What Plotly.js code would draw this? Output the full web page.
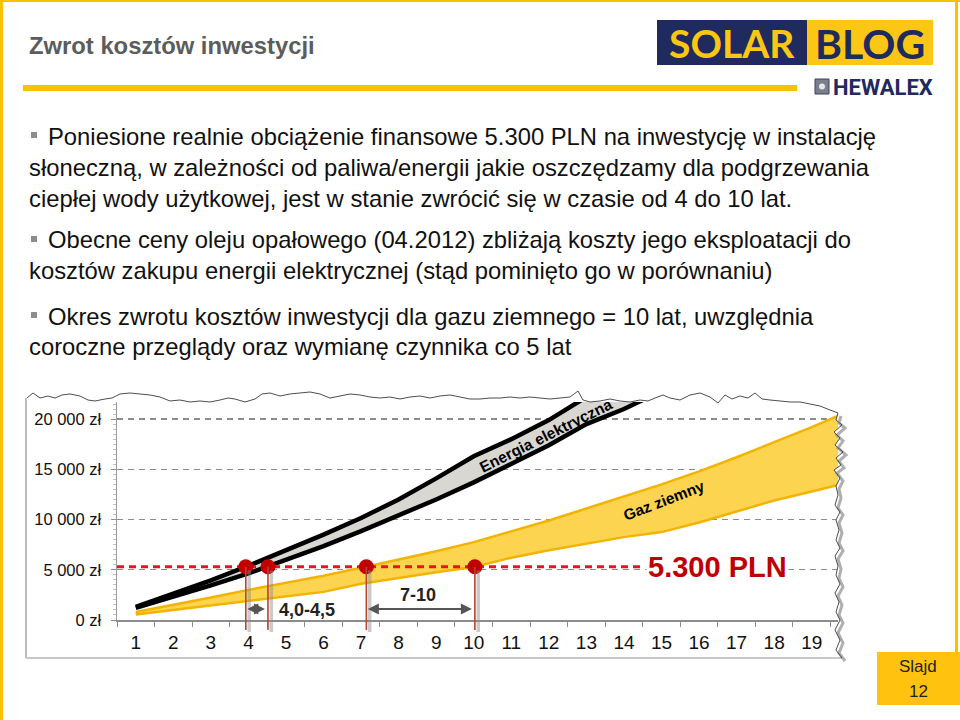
<!DOCTYPE html>
<html>
<head>
<meta charset="utf-8">
<script src="https://cdn.plot.ly/plotly-3.0.1.min.js"></script>
<style>html,body{margin:0;padding:0;background:#fff;}#chart{width:960px;height:720px;}</style>
</head>
<body>
<div id="chart"></div>
<script>
// ---- data ----
const yearLabels = ['1','2','3','4','5','6','7','8','9','10','11','12','13','14','15','16','17','18','19'];
const yearTicks = [1,2,3,4,5,6,7,8,9,10,11,12,13,14,15,16,17,18,19];
const elecYears = [1,2,3,4,5,6,7,8,9,10,11,12,13,14,15];
const elecUpper = [1300,2600,3950,5400,6900,8500,10150,12000,14100,16300,18000,19900,22200,24500,27000];
const elecLower = [1200,2300,3450,4650,5950,7350,8850,10400,12000,13700,15500,17400,19500,21000,22800];
const gasYears = [1,2,3,4,5,6,7,8,9,10,11,12,13,14,15,16,17,18,19,20];
const gasUpper = [800,1500,2250,3000,3700,4400,5200,6000,6850,7750,8800,9900,11100,12300,13500,14800,16200,17700,19200,20800];
const gasLower = [550,1000,1450,1900,2350,2800,3600,4200,4750,5280,6200,6950,7600,8250,8750,9700,10800,11900,12800,13700];
const investment = 5300;
const investmentLineX = [0.5, 14.5];
const paybackX = [3.93, 4.52, 7.14, 10.03];
const yTickVals = [0,5000,10000,15000,20000];
const yTickText = ['0 zł','5 000 zł','10 000 zł','15 000 zł','20 000 zł'];
const rangeElec = {from: 3.93, to: 4.52, label: '4,0-4,5'};
const rangeGas = {from: 7.14, to: 10.03, label: '7-10'};

const bulletLines = [
  {t:'Poniesione realnie obciążenie finansowe 5.300 PLN na inwestycję w instalację', bullet:true},
  {t:'słoneczną, w zależności od paliwa/energii jakie oszczędzamy dla podgrzewania'},
  {t:'ciepłej wody użytkowej, jest w stanie zwrócić się w czasie od 4 do 10 lat.'},
  {t:'Obecne ceny oleju opałowego (04.2012) zbliżają koszty jego eksploatacji do', bullet:true},
  {t:'kosztów zakupu energii elektrycznej (stąd pominięto go w porównaniu)'},
  {t:'Okres zwrotu kosztów inwestycji dla gazu ziemnego = 10 lat, uwzględnia', bullet:true},
  {t:'coroczne przeglądy oraz wymianę czynnika co 5 lat'}
];
const lineY = [136,167,198,240,270,316,346];

// ---- layout helpers ----
const W = 960, H = 720;
const px = x => x / W;
const py = y => 1 - y / H;
const xDom = [117/W, 838/W];
const yDom = [py(620), py(402)];
const xRange = [0.5, 19.7];
const yRange = [0, 21700];
const yPaper = v => yDom[0] + (v - yRange[0]) / (yRange[1] - yRange[0]) * (yDom[1] - yDom[0]);
const FONT = 'Liberation Sans, Arial, sans-serif';
const YELLOW = '#F6C300';

const traces = [
  {x: gasYears, y: gasUpper, mode:'lines', line:{color:'#F2B400', width:2.5}, hoverinfo:'skip', showlegend:false},
  {x: gasYears, y: gasLower, mode:'lines', fill:'tonexty', fillcolor:'#FDD450', line:{color:'#F2B400', width:2.5}, hoverinfo:'skip', showlegend:false},
  {x: elecYears, y: elecUpper, mode:'lines', line:{color:'#000', width:4.5}, hoverinfo:'skip', showlegend:false},
  {x: elecYears, y: elecLower, mode:'lines', fill:'tonexty', fillcolor:'#D9D7D2', line:{color:'#000', width:4.5}, hoverinfo:'skip', showlegend:false},
  {x: investmentLineX, y: [investment, investment], mode:'lines', line:{color:'#E8141C', width:3, dash:'7px,5px'}, hoverinfo:'skip', showlegend:false},
  {x: paybackX, y: paybackX.map(() => investment), mode:'markers', marker:{color:'#C00000', size:15}, hoverinfo:'skip', showlegend:false}
];

const shapes = [];
// slide frame
shapes.push({type:'line', xref:'paper', yref:'paper', x0:px(0), x1:px(960), y0:py(1), y1:py(1), line:{color:YELLOW, width:2}});
shapes.push({type:'line', xref:'paper', yref:'paper', x0:px(1.5), x1:px(1.5), y0:py(0), y1:py(720), line:{color:YELLOW, width:3}});
shapes.push({type:'line', xref:'paper', yref:'paper', x0:px(956.5), x1:px(956.5), y0:py(0), y1:py(652), line:{color:YELLOW, width:3}});
// title bar
shapes.push({type:'rect', xref:'paper', yref:'paper', x0:px(23), x1:px(797), y0:py(85), y1:py(91), fillcolor:YELLOW, line:{width:0}});
// logo boxes
shapes.push({type:'rect', xref:'paper', yref:'paper', x0:px(657), x1:px(807), y0:py(20), y1:py(65), fillcolor:'#1F2A5E', line:{width:0}});
shapes.push({type:'rect', xref:'paper', yref:'paper', x0:px(807), x1:px(933), y0:py(20), y1:py(65), fillcolor:'#FBC614', line:{width:0}});
shapes.push({type:'rect', xref:'paper', yref:'paper', x0:px(815), x1:px(829), y0:py(79), y1:py(94), fillcolor:'#7A7F8C', line:{color:'#3B4260', width:1}});
shapes.push({type:'circle', xref:'paper', yref:'paper', x0:px(819), x1:px(825), y0:py(83.5), y1:py(89.5), fillcolor:'#E6E6E6', line:{width:0}});
// slide number box
shapes.push({type:'rect', xref:'paper', yref:'paper', x0:px(877), x1:px(960), y0:py(652), y1:py(705), fillcolor:'#FFC20E', line:{width:0}});
// bullets
bulletLines.forEach((b,i) => {
  if (b.bullet) shapes.push({type:'rect', xref:'paper', yref:'paper', x0:px(31), x1:px(37), y0:py(lineY[i]-4), y1:py(lineY[i]+2), fillcolor:'#8C8C8C', line:{width:0}});
});
// chart frame (left + bottom)
shapes.push({type:'line', xref:'paper', yref:'paper', x0:px(26), x1:px(26), y0:py(398), y1:py(658), line:{color:'#A6A6A6', width:1.5}});
shapes.push({type:'line', xref:'paper', yref:'paper', x0:px(26), x1:px(842), y0:py(658), y1:py(658), line:{color:'#C8C8C8', width:2}});

// payback vertical lines with shadow
paybackX.forEach(x => {
  shapes.push({type:'line', xref:'x', yref:'paper', x0:x+0.09, x1:x+0.09, y0:yPaper(investment)-0.005, y1:py(632), line:{color:'rgba(140,140,140,0.45)', width:3.5}});
  shapes.push({type:'line', xref:'x', yref:'paper', x0:x, x1:x, y0:yPaper(investment), y1:py(630), line:{color:'#B8432E', width:1.6}});
});

// torn edges
const topEdge = [[27,398],[33,393],[40,398],[48,396],[55,398],[62,395],[70,394],[80,396],[88,400],[95,401],[105,399],[112,398],[120,394],[130,393],[140,394],[150,395],[160,397],[170,401],[180,400],[190,402],[200,401],[210,402],[220,400],[228,398],[235,399],[245,402],[255,399],[262,394],[270,393],[280,396],[290,394],[300,393],[310,392],[320,394],[330,398],[340,396],[350,394],[360,395],[370,397],[380,398],[390,397],[400,399],[410,397],[420,396],[430,398],[440,396],[450,395],[460,397],[470,399],[480,399],[490,398],[500,398],[510,397],[520,398],[530,397],[540,398],[550,399],[560,398],[570,397],[578,391],[583,400],[590,402],[600,401],[610,399],[620,401],[630,402],[640,400],[648,401],[655,398],[663,395],[670,398],[680,400],[690,395],[700,393],[710,397],[718,403],[725,395],[732,399],[740,396],[748,398],[755,393],[762,399],[770,400],[780,401],[790,402],[800,402],[810,404],[820,406],[830,410],[838,413]];
const rightEdge = [[838,413],[836,420],[842,425],[834,432],[840,438],[835,445],[843,452],[836,458],[841,465],[834,470],[840,478],[836,486],[838,495],[835,505],[840,512],[836,520],[839,530],[836,540],[840,548],[835,556],[838,566],[836,575],[840,584],[835,593],[839,602],[836,612],[840,620],[835,630],[840,640],[836,650],[842,658]];
const toPath = pts => pts.map((p,i) => (i ? 'L' : 'M') + px(p[0]).toFixed(5) + ',' + py(p[1]).toFixed(5)).join(' ');
shapes.push({type:'path', xref:'paper', yref:'paper', layer:'above', path: toPath(rightEdge.concat([[870,658],[870,405]])) + ' Z', fillcolor:'#fff', line:{width:0}});
shapes.push({type:'path', xref:'paper', yref:'paper', layer:'above', path: toPath(topEdge.concat([[838,385],[27,385]])) + ' Z', fillcolor:'#fff', line:{width:0}});
shapes.push({type:'path', xref:'paper', yref:'paper', layer:'above', path: toPath(rightEdge.map(p => [p[0]+3, p[1]+3])), line:{color:'rgba(110,110,110,0.55)', width:3}});
shapes.push({type:'path', xref:'paper', yref:'paper', layer:'above', path: toPath(topEdge), line:{color:'#4D4D4D', width:1}});
shapes.push({type:'path', xref:'paper', yref:'paper', layer:'above', path: toPath(rightEdge), line:{color:'#4D4D4D', width:1}});

const annotations = [];
const pa = (x, y, text, font, opts) => Object.assign({xref:'paper', yref:'paper', x:px(x), y:py(y), text, showarrow:false, font:Object.assign({family:FONT, color:'#111'}, font), xanchor:'left', yanchor:'middle'}, opts || {});
annotations.push(pa(27, 45, '<b>Zwrot kosztów inwestycji</b>', {size:23.8, color:'#5C5C5C'}));
bulletLines.forEach((b,i) => {
  annotations.push(pa(b.bullet ? 46 : 27, lineY[i], b.t, {size:23.8, color:'#111'}));
});
annotations.push(pa(732, 43, '<b>SOLAR</b>', {size:39, color:'#FBC614', family:'Lato, Open Sans, sans-serif'}, {xanchor:'center'}));
annotations.push(pa(870, 43, '<b>BLOG</b>', {size:41, color:'#1F2A5E', family:'Lato, Open Sans, sans-serif'}, {xanchor:'center'}));
annotations.push(pa(831, 87, '<b>HEWALEX</b>', {size:22, color:'#1F2A5E', family:'Roboto, Liberation Sans, sans-serif'}));
annotations.push(pa(918, 666, 'Slajd', {size:17, color:'#222'}, {xanchor:'center'}));
annotations.push(pa(918, 691, '12', {size:17, color:'#222'}, {xanchor:'center'}));

// chart labels (data coords)
annotations.push({x:11.92, y:18350, xref:'x', yref:'y', text:'<b>Energia elektryczna</b>', showarrow:false, textangle:-26.5, font:{family:FONT, size:15.5, color:'#000'}});
annotations.push({x:15.06, y:11940, xref:'x', yref:'y', text:'<b>Gaz ziemny</b>', showarrow:false, textangle:-21, font:{family:FONT, size:15.5, color:'#000'}});
annotations.push({x:16.5, y:5270, xref:'x', yref:'y', text:'<b>5.300 PLN</b>', showarrow:false, bgcolor:'#fff', borderpad:1, font:{family:FONT, size:29, color:'#C00000'}});
[[rangeElec, 1100, 5.55, 1000], [rangeGas, 1100, 8.51, 2450]].forEach(([r, ay, lx, ly]) => {
  annotations.push({x:r.from+0.04, y:ay, ax:r.to-0.04, ay:ay, xref:'x', yref:'y', axref:'x', ayref:'y', text:'', showarrow:true, arrowside:'end+start', arrowhead:2, arrowsize:1.1, arrowwidth:2, arrowcolor:'#555', standoff:0, startstandoff:0});
  annotations.push({x:lx, y:ly, xref:'x', yref:'y', text:'<b>' + r.label + '</b>', showarrow:false, font:{family:FONT, size:18, color:'#222'}});
});

const layout = {
  width: W, height: H,
  margin: {l:0, r:0, t:0, b:0},
  paper_bgcolor:'#fff', plot_bgcolor:'#fff',
  showlegend:false,
  xaxis: {
    domain: xDom, range: xRange, tickmode:'array', tickvals: yearTicks, ticktext: yearLabels,
    ticks:'', showgrid:false, zeroline:false, showline:true, linecolor:'#8C8C8C', linewidth:1.5,
    tickfont:{family:FONT, size:19, color:'#111'}, ticklabelstandoff: 5,
    minor:{tick0:0.5, dtick:1, ticks:'outside', ticklen:5, tickcolor:'#8C8C8C', tickwidth:1, showgrid:false},
    fixedrange:true
  },
  yaxis: {
    domain: yDom, range: yRange, tickmode:'array', tickvals: yTickVals, ticktext: yTickText,
    ticks:'outside', ticklen:5, tickcolor:'#8C8C8C', showline:true, linecolor:'#9A9A9A', linewidth:1.5,
    showgrid:true, gridcolor:'#8C8C8C', gridwidth:1.3, griddash:'6px,5px', zeroline:false,
    tickfont:{family:FONT, size:16.5, color:'#111'}, ticklabelstandoff: 6,
    minor:{dtick:500, ticks:'outside', ticklen:3, tickcolor:'#C0C0C0', showgrid:false},
    fixedrange:true
  },
  shapes, annotations
};

Plotly.newPlot('chart', traces, layout, {staticPlot:true, displayModeBar:false});
</script>
</body>
</html>
